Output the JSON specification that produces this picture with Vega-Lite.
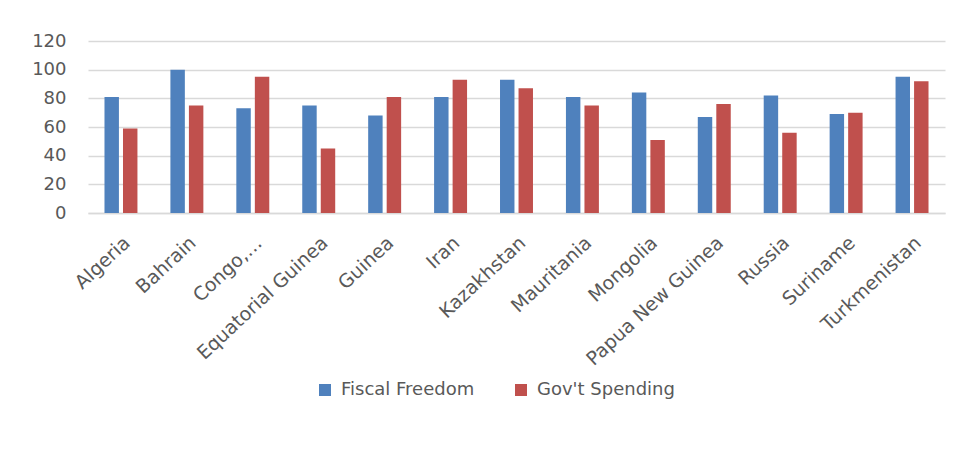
{
  "$schema": "https://vega.github.io/schema/vega-lite/v6.json",
  "width": 857,
  "height": 172,
  "autosize": {"type": "none"},
  "padding": {"left": 88, "top": 41, "right": 19, "bottom": 239},
  "background": "#ffffff",
  "data": {
    "values": [
      {"country": "Algeria", "series": "Fiscal Freedom", "value": 81},
      {"country": "Algeria", "series": "Gov't Spending", "value": 59},
      {"country": "Bahrain", "series": "Fiscal Freedom", "value": 100},
      {"country": "Bahrain", "series": "Gov't Spending", "value": 75},
      {"country": "Congo,…", "series": "Fiscal Freedom", "value": 73},
      {"country": "Congo,…", "series": "Gov't Spending", "value": 95},
      {"country": "Equatorial Guinea", "series": "Fiscal Freedom", "value": 75},
      {"country": "Equatorial Guinea", "series": "Gov't Spending", "value": 45},
      {"country": "Guinea", "series": "Fiscal Freedom", "value": 68},
      {"country": "Guinea", "series": "Gov't Spending", "value": 81},
      {"country": "Iran", "series": "Fiscal Freedom", "value": 81},
      {"country": "Iran", "series": "Gov't Spending", "value": 93},
      {"country": "Kazakhstan", "series": "Fiscal Freedom", "value": 93},
      {"country": "Kazakhstan", "series": "Gov't Spending", "value": 87},
      {"country": "Mauritania", "series": "Fiscal Freedom", "value": 81},
      {"country": "Mauritania", "series": "Gov't Spending", "value": 75},
      {"country": "Mongolia", "series": "Fiscal Freedom", "value": 84},
      {"country": "Mongolia", "series": "Gov't Spending", "value": 51},
      {"country": "Papua New Guinea", "series": "Fiscal Freedom", "value": 67},
      {"country": "Papua New Guinea", "series": "Gov't Spending", "value": 76},
      {"country": "Russia", "series": "Fiscal Freedom", "value": 82},
      {"country": "Russia", "series": "Gov't Spending", "value": 56},
      {"country": "Suriname", "series": "Fiscal Freedom", "value": 69},
      {"country": "Suriname", "series": "Gov't Spending", "value": 70},
      {"country": "Turkmenistan", "series": "Fiscal Freedom", "value": 95},
      {"country": "Turkmenistan", "series": "Gov't Spending", "value": 92}
    ]
  },
  "mark": {"type": "bar"},
  "encoding": {
    "x": {
      "field": "country",
      "type": "nominal",
      "sort": null,
      "scale": {"paddingInner": 0.5, "paddingOuter": 0.25},
      "axis": {
        "title": null,
        "labelAngle": -43,
        "labelFont": "DejaVu Sans",
        "labelFontSize": 19,
        "labelColor": "#595959",
        "labelPadding": 20,
        "ticks": false,
        "domain": true,
        "domainColor": "#d9d9d9",
        "domainWidth": 1.5,
        "labelLimit": 300
      }
    },
    "xOffset": {
      "field": "series",
      "type": "nominal",
      "scale": {"paddingInner": 0.22, "paddingOuter": 0}
    },
    "y": {
      "field": "value",
      "type": "quantitative",
      "scale": {"domain": [0, 120], "nice": false},
      "axis": {
        "title": null,
        "values": [0, 20, 40, 60, 80, 100, 120],
        "labelFont": "DejaVu Sans",
        "labelFontSize": 18,
        "labelColor": "#595959",
        "labelPadding": 22,
        "ticks": false,
        "domain": false,
        "gridColor": "#d9d9d9",
        "gridWidth": 1.5
      }
    },
    "color": {
      "field": "series",
      "type": "nominal",
      "scale": {"domain": ["Fiscal Freedom", "Gov't Spending"], "range": ["#4F81BD", "#C0504D"]},
      "legend": {
        "title": null,
        "orient": "none",
        "direction": "horizontal",
        "legendX": 228,
        "legendY": 340,
        "symbolType": "square",
        "symbolSize": 144,
        "symbolStrokeWidth": 0,
        "symbolOpacity": 1,
        "labelFont": "DejaVu Sans",
        "labelFontSize": 18,
        "labelColor": "#595959",
        "labelOffset": 7,
        "columnPadding": 37,
        "padding": 0
      }
    }
  },
  "config": {
    "view": {"stroke": null}
  }
}
